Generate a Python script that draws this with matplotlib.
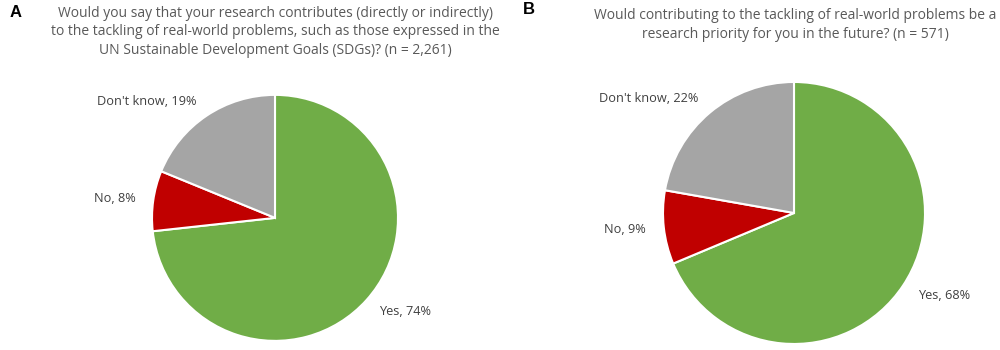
import numpy as np
import matplotlib; matplotlib.use("Agg")
import matplotlib.pyplot as plt

plt.rcParams["font.family"] = ["Open Sans", "DejaVu Sans"]

cats = ["Yes", "No", "Don't know"]
vals_a = [74, 8, 19]
vals_b = [68, 9, 22]
cols = ["#70AD47", "#C00000", "#A5A5A5"]

title_a = ("Would you say that your research contributes (directly or indirectly)\n"
           "to the tackling of real-world problems, such as those expressed in the\n"
           "UN Sustainable Development Goals (SDGs)? (n = 2,261)")
title_b = ("Would contributing to the tackling of real-world problems be a\n"
           "research priority for you in the future? (n = 571)")

fig = plt.figure(figsize=(10, 3.5), dpi=100)
ax_a = fig.add_axes([0.152, 0.026, 0.246, 0.703])
ax_b = fig.add_axes([0.663, 0.017, 0.262, 0.749])

def draw(ax, vals):
    labs = [f"{c}, {v}%" for c, v in zip(cats, vals)]
    wedges, texts = ax.pie(vals, colors=cols, startangle=90, counterclock=False,
                           labels=labs, labeldistance=1.14,
                           wedgeprops=dict(edgecolor="white", linewidth=1.5),
                           textprops=dict(color="#404040", fontsize=9.2))
    ax.set_xlim(-1, 1); ax.set_ylim(-1, 1); ax.set_aspect("equal")
    ax.axis("off")
    return texts

draw(ax_a, vals_a)
draw(ax_b, vals_b)

fig.text(0.275, 0.984, title_a, ha="center", va="top", fontsize=10,
         color="#595959", linespacing=1.35)
fig.text(0.795, 0.977, title_b, ha="center", va="top", fontsize=10,
         color="#595959", linespacing=1.4)
fig.text(0.01, 0.985, "A", ha="left", va="top", fontsize=12, fontweight="bold",
         family=["Liberation Sans", "DejaVu Sans"])
fig.text(0.523, 0.995, "B", ha="left", va="top", fontsize=12, fontweight="bold",
         family=["Liberation Sans", "DejaVu Sans"])

fig.savefig("out.png", dpi=100)
